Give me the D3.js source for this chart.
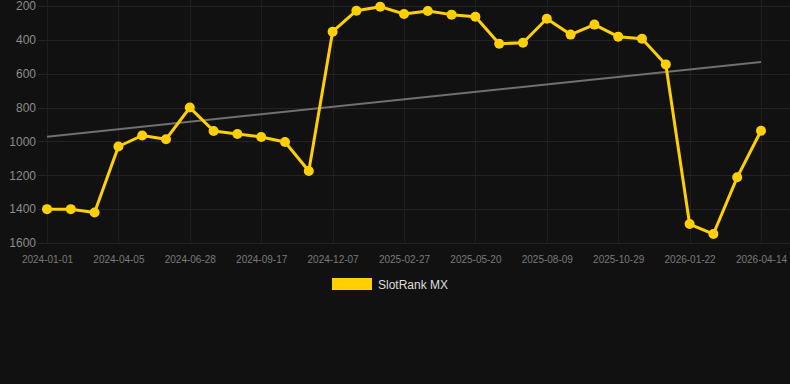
<!DOCTYPE html>
<html>
<head>
<meta charset="utf-8">
<script src="https://cdn.jsdelivr.net/npm/d3@7"></script>
<style>
  html, body { margin: 0; padding: 0; background: #111111; }
  svg { display: block; font-family: "Liberation Sans", Arial, sans-serif; }
</style>
</head>
<body>
<svg class="chart" width="790" height="384"></svg>
<script>
// categories (evenly spaced points, every 3rd one is labelled)
var dates = [
    '2024-01-01', '2024-02-01', '2024-03-04', '2024-04-05', '2024-05-03', '2024-05-31',
    '2024-06-28', '2024-07-25', '2024-08-21', '2024-09-17', '2024-10-14', '2024-11-10',
    '2024-12-07', '2025-01-03', '2025-01-31', '2025-02-27', '2025-03-26', '2025-04-22',
    '2025-05-20', '2025-06-16', '2025-07-13', '2025-08-09', '2025-09-05', '2025-10-02',
    '2025-10-29', '2025-11-26', '2025-12-24', '2026-01-22', '2026-02-18', '2026-03-17',
    '2026-04-14'
];
var rankValues = [
    1400, 1400, 1420, 1030, 965, 987, 800, 938, 956, 974, 1003, 1175,
    352, 228, 204, 247, 230, 251, 263, 423, 417, 275, 369, 310, 381, 393, 545,
    1488, 1547, 1212, 937
];
var trendValues = [972, 531];
var yTicks = [200, 400, 600, 800, 1000, 1200, 1400, 1600];
var seriesName = 'SlotRank MX';

var plotLeft = 38, plotRight = 790, plotTop = 6, plotBottom = 243;
var lineColor = '#ffd000';

var svg = d3.select('.chart');

var x = d3.scalePoint()
    .domain(dates)
    .range([47, 761]);

var y = d3.scaleLinear()
    .domain([200, 1600])
    .range([plotTop, plotBottom]);

var labelled = dates.filter(function (d, i) { return i % 3 === 0; });

// grid
svg.append('g')
    .selectAll('line')
    .data(yTicks)
    .enter()
    .append('line')
    .attr('x1', plotLeft)
    .attr('x2', plotRight)
    .attr('y1', function (d) { return Math.round(y(d)) + 0.5; })
    .attr('y2', function (d) { return Math.round(y(d)) + 0.5; })
    .style('stroke', '#232323')
    .style('stroke-width', 1);

svg.append('g')
    .selectAll('line')
    .data(labelled)
    .enter()
    .append('line')
    .attr('x1', function (d) { return Math.round(x(d)) + 0.5; })
    .attr('x2', function (d) { return Math.round(x(d)) + 0.5; })
    .attr('y1', 0)
    .attr('y2', plotBottom)
    .style('stroke', '#1f1f1f')
    .style('stroke-width', 1);

// y axis labels
var yAxis = d3.axisLeft(y).tickValues(yTicks).tickFormat(d3.format('d')).tickSize(0).tickPadding(0);
var gy = svg.append('g')
    .attr('transform', 'translate(' + (plotLeft - 2) + ',0)')
    .call(yAxis);
gy.select('.domain').remove();
gy.selectAll('text')
    .style('font-size', '12px')
    .style('fill', '#8c8c8c')
    .style('font-family', '"Liberation Sans", Arial, sans-serif');

// x axis labels
var xAxis = d3.axisBottom(x).tickValues(labelled).tickSize(0).tickPadding(0);
var gx = svg.append('g')
    .attr('transform', 'translate(0,' + 256 + ')')
    .call(xAxis);
gx.select('.domain').remove();
gx.selectAll('text')
    .style('font-size', '10px')
    .style('fill', '#7a7a7a')
    .style('font-family', '"Liberation Sans", Arial, sans-serif');

// trend line
svg.append('line')
    .attr('x1', x(dates[0]))
    .attr('x2', x(dates[dates.length - 1]))
    .attr('y1', y(trendValues[0]))
    .attr('y2', y(trendValues[1]))
    .style('stroke', '#707070')
    .style('stroke-width', 2);

// series
var line = d3.line()
    .x(function (d, i) { return x(dates[i]); })
    .y(function (d) { return y(d); });

svg.append('path')
    .datum(rankValues)
    .attr('d', line)
    .style('fill', 'none')
    .style('stroke', lineColor)
    .style('stroke-width', 3)
    .style('stroke-linejoin', 'round');

svg.append('g')
    .selectAll('circle')
    .data(rankValues)
    .enter()
    .append('circle')
    .attr('cx', function (d, i) { return x(dates[i]); })
    .attr('cy', function (d) { return y(d); })
    .attr('r', 5)
    .style('fill', lineColor);

// legend
var legend = svg.append('g').attr('transform', 'translate(332,278)');
legend.append('rect')
    .attr('width', 40)
    .attr('height', 12)
    .style('fill', lineColor);
legend.append('text')
    .attr('x', 46)
    .attr('y', 7)
    .attr('dy', '0.35em')
    .text(seriesName)
    .style('font-size', '12px')
    .style('fill', '#dddddd');
</script>
</body>
</html>
